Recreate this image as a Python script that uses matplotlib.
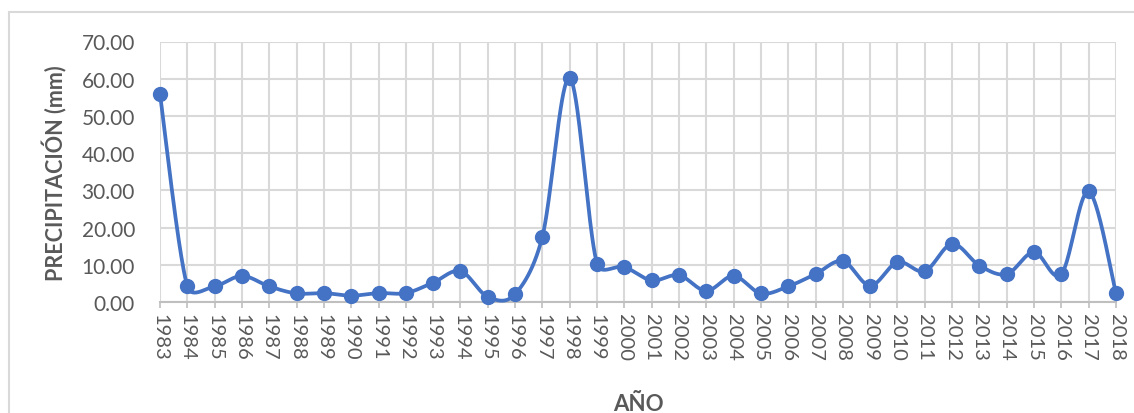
import numpy as np
import matplotlib.pyplot as plt
from matplotlib.patches import Rectangle

# Precipitation data per year
years = list(range(1983, 2019))
precip = [55.8, 4.2, 4.2, 7.0, 4.2, 2.3, 2.4, 1.7, 2.4, 2.4,
          5.2, 8.3, 1.4, 2.1, 17.6, 60.2, 10.3, 9.4, 5.8, 7.2,
          3.0, 7.0, 2.3, 4.2, 7.5, 11.0, 4.4, 10.7, 8.3, 15.6,
          9.8, 7.5, 13.4, 7.5, 29.7, 2.4]
ytick_vals = [0, 10, 20, 30, 40, 50, 60, 70]

line_color = '#4472C4'
grid_color = '#d9d9d9'
text_color = '#595959'


def smooth_curve(ax, x, y, n=40):
    # Excel-like smoothed line: bezier segments, tangents limited by segment length
    pts = ax.transData.transform(np.column_stack([x, y]))
    out = []
    t = np.linspace(0, 1, n)[:, None]
    last = len(pts) - 1
    for i in range(last):
        p0 = pts[max(i - 1, 0)]
        p1 = pts[i]
        p2 = pts[i + 1]
        p3 = pts[min(i + 2, last)]
        d02 = np.hypot(*(p2 - p0))
        d12 = np.hypot(*(p2 - p1))
        d13 = np.hypot(*(p3 - p1))
        f1 = 1 / 6
        f2 = 1 / 6
        if d02 / 6 >= d12 / 2 and d02 > 0:
            f1 = d12 / d02 / 2
        if d13 / 6 >= d12 / 2 and d13 > 0:
            f2 = d12 / d13 / 2
        c1 = p1 + (p2 - p0) * f1
        c2 = p2 - (p3 - p1) * f2
        seg = ((1 - t) ** 3 * p1 + 3 * (1 - t) ** 2 * t * c1
               + 3 * (1 - t) * t ** 2 * c2 + t ** 3 * p2)
        out.append(seg)
    out = np.vstack(out)
    data = ax.transData.inverted().transform(out)
    return data[:, 0], data[:, 1]


plt.rcParams['font.family'] = ['Lato', 'DejaVu Sans']

fig = plt.figure(figsize=(11.34, 4.14), dpi=100)
# chart area border
fig.patches.append(Rectangle((9 / 1134, -0.1), 1.2, 1 - 13 / 414 + 0.1,
                             transform=fig.transFigure, fill=False,
                             edgecolor='#d9d9d9', linewidth=1.5))

ax = fig.add_axes([160 / 1134, 1 - 303 / 414, (1116 - 160) / 1134, (303 - 42.5) / 414])

idx = np.arange(len(years))
ax.set_xlim(0, len(years) - 1)
ax.set_ylim(0, 70)

sx, sy = smooth_curve(ax, idx, precip)
ax.plot(sx, sy, color=line_color, linewidth=2.7, zorder=3, clip_on=False)
ax.plot(idx, precip, 'o', color=line_color, markersize=10, zorder=4, clip_on=False)

ax.set_xticks(idx)
ax.set_xticklabels([str(y) for y in years], rotation=-90, fontsize=14.5, color=text_color)
ax.set_yticks(ytick_vals)
ax.set_yticklabels(['%.2f' % v for v in ytick_vals], fontsize=15, color=text_color)

ax.grid(True, color=grid_color, linewidth=1.5)
ax.set_axisbelow(True)
for side in ['top', 'right', 'left']:
    ax.spines[side].set_visible(False)
ax.spines['bottom'].set_color('#bfbfbf')
ax.spines['bottom'].set_linewidth(1.5)
ax.tick_params(axis='y', length=0, pad=18)
ax.tick_params(axis='x', length=4, color='#bfbfbf', width=1.2, pad=4)

ax.set_ylabel('PRECIPITACIÓN (mm)', fontsize=15.5, fontweight='bold', color=text_color, labelpad=10)
ax.set_xlabel('AÑO', fontsize=16, fontweight='bold', color=text_color, labelpad=24)

fig.savefig('out.png', dpi=100)
